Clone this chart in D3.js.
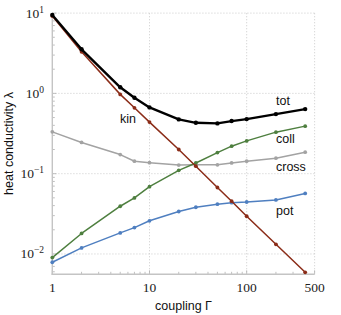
<!DOCTYPE html>
<html><head><meta charset="utf-8">
<script src="https://cdn.jsdelivr.net/npm/d3@7"></script>
<style>body{margin:0;background:#fff}</style>
</head><body><svg id="c" width="341" height="315"></svg>
<script>
const gamma = [1, 2, 5, 7, 10, 20, 30, 50, 70, 100, 200, 400];
const tot   = [9.47, 3.54, 1.19, 0.881, 0.669, 0.474, 0.430, 0.423, 0.452, 0.478, 0.552, 0.637];
const kin   = [9.2, 3.30, 0.972, 0.661, 0.439, 0.200, 0.124, 0.0673, 0.0454, 0.0295, 0.0132, 0.00591];
const cross = [0.332, 0.245, 0.173, 0.143, 0.137, 0.128, 0.129, 0.129, 0.136, 0.143, 0.156, 0.185];
const coll  = [0.00902, 0.0180, 0.0393, 0.0499, 0.0689, 0.110, 0.136, 0.183, 0.220, 0.256, 0.329, 0.391];
const pot   = [0.00788, 0.0119, 0.0183, 0.0213, 0.0259, 0.0338, 0.0382, 0.0417, 0.0435, 0.0444, 0.0471, 0.0568];
const xTickValues = [1, 10, 100, 500];
const xTickLabels = ["1", "10", "100", "500"];
const yTickExps = [-2, -1, 0, 1];
const seriesNames = ["cross", "pot", "coll", "kin", "tot"];
const seriesColors = {tot: "#000000", kin: "#8b2c18", coll: "#4e7f3f", cross: "#a3a3a3", pot: "#4f7fc0"};
const seriesData = {tot, kin, coll, cross, pot};
const labelPos = {tot: [276, 401], kin: [120, 0.62], coll: [276, 0.210], cross: [276, 0.104], pot: [276, 0.0245]};

const svg = d3.select("#c");
const L = 52.3, R = 314.6, T = 13.1, B = 274.3;
const x = d3.scaleLog().domain([1, 500]).range([L, R]);
const y = d3.scaleLog().domain([0.00558, 10]).range([B, T]);

// grid
const g = svg.append("g");
const gridStyle = s => s.attr("stroke", "#cfcfcf").attr("stroke-width", 0.9).attr("stroke-dasharray", "1.2,1.8").attr("fill", "none");
[10, 100].forEach(v => gridStyle(g.append("line").attr("x1", x(v)).attr("x2", x(v)).attr("y1", T).attr("y2", B)));
gridStyle(g.append("line").attr("x1", R).attr("x2", R).attr("y1", T).attr("y2", B));
[0.01, 0.1, 1].forEach(v => gridStyle(g.append("line").attr("x1", L).attr("x2", R).attr("y1", y(v)).attr("y2", y(v))));
gridStyle(g.append("line").attr("x1", L).attr("x2", R).attr("y1", T).attr("y2", T));

// ticks
const tickCol = "#b0b0b0";
const xMinor = [];
[1, 10, 100].forEach(d => { for (let k = 1; k <= 9; k++) { const v = d * k; if (v <= 500) xMinor.push(v); } });
xMinor.forEach(v => {
  const major = xTickValues.includes(v);
  g.append("line").attr("x1", x(v)).attr("x2", x(v)).attr("y1", B).attr("y2", B - (major ? 4 : 2.5)).attr("stroke", tickCol).attr("stroke-width", 0.8);
});
const yMinor = [];
[0.001, 0.01, 0.1, 1, 10].forEach(d => { for (let k = 1; k <= 9; k++) { const v = d * k; if (v >= 0.00558 && v <= 10.001) yMinor.push(v); } });
yMinor.forEach(v => {
  const major = Math.abs(Math.log10(v) - Math.round(Math.log10(v))) < 1e-6;
  g.append("line").attr("x1", L).attr("x2", L + (major ? 4 : 2.5)).attr("y1", y(v)).attr("y2", y(v)).attr("stroke", tickCol).attr("stroke-width", 0.8);
});

// axis lines
g.append("line").attr("x1", L).attr("x2", L).attr("y1", T).attr("y2", B + 0.7).attr("stroke", "#c4c4c4").attr("stroke-width", 1.4);
g.append("line").attr("x1", L - 0.7).attr("x2", R).attr("y1", B).attr("y2", B).attr("stroke", "#c4c4c4").attr("stroke-width", 1.4);

// tick labels
const serif = "'DejaVu Serif', 'Liberation Serif', serif";
xTickValues.forEach((v, i) => {
  svg.append("text").attr("x", x(v)).attr("y", 292).attr("text-anchor", "middle")
    .attr("font-family", "Liberation Serif").attr("font-size", 13.5).attr("fill", "#222").text(xTickLabels[i]);
});
yTickExps.forEach(e => {
  const t = svg.append("text").attr("x", e < 0 ? 44 : 44).attr("y", y(Math.pow(10, e)) + 4.5).attr("text-anchor", "end")
    .attr("font-family", "Liberation Serif").attr("font-size", 13.5).attr("fill", "#222");
  t.append("tspan").text("10");
  t.append("tspan").attr("dy", -5).attr("font-size", 9.5).text(e < 0 ? "\u2212" + (-e) : String(e));
});

// series
const line = d3.line().x((d, i) => x(gamma[i])).y(d => y(d));
seriesNames.forEach(name => {
  const data = seriesData[name];
  const col = seriesColors[name];
  const w = name === "tot" ? 2.4 : 1.5;
  svg.append("path").datum(data).attr("d", line).attr("fill", "none").attr("stroke", col).attr("stroke-width", w).attr("stroke-linejoin", "round");
  svg.append("g").selectAll("circle").data(data).join("circle")
    .attr("cx", (d, i) => x(gamma[i])).attr("cy", d => y(d)).attr("r", name === "tot" ? 2.2 : 1.9).attr("fill", col);
});

// series labels
const sans = "'Liberation Sans', Arial, sans-serif";
const labs = [["tot", 276, 105], ["kin", 120, 122.5], ["coll", 276, 142.5], ["cross", 276, 171], ["pot", 276, 214.5]];
labs.forEach(([t, lx, ly]) => {
  svg.append("text").attr("x", lx).attr("y", ly).attr("font-family", sans).attr("font-size", 12.5).attr("fill", "#111").text(t);
});

// axis titles
svg.append("text").attr("x", 183.5).attr("y", 310).attr("text-anchor", "middle").attr("font-family", sans).attr("font-size", 12.5).attr("fill", "#111").text("coupling \u0393");
svg.append("text").attr("transform", "translate(12.5,143.5) rotate(-90)").attr("text-anchor", "middle").attr("font-family", sans).attr("font-size", 12.5).attr("fill", "#111").text("heat conductivity \u03bb");
</script></body></html>
